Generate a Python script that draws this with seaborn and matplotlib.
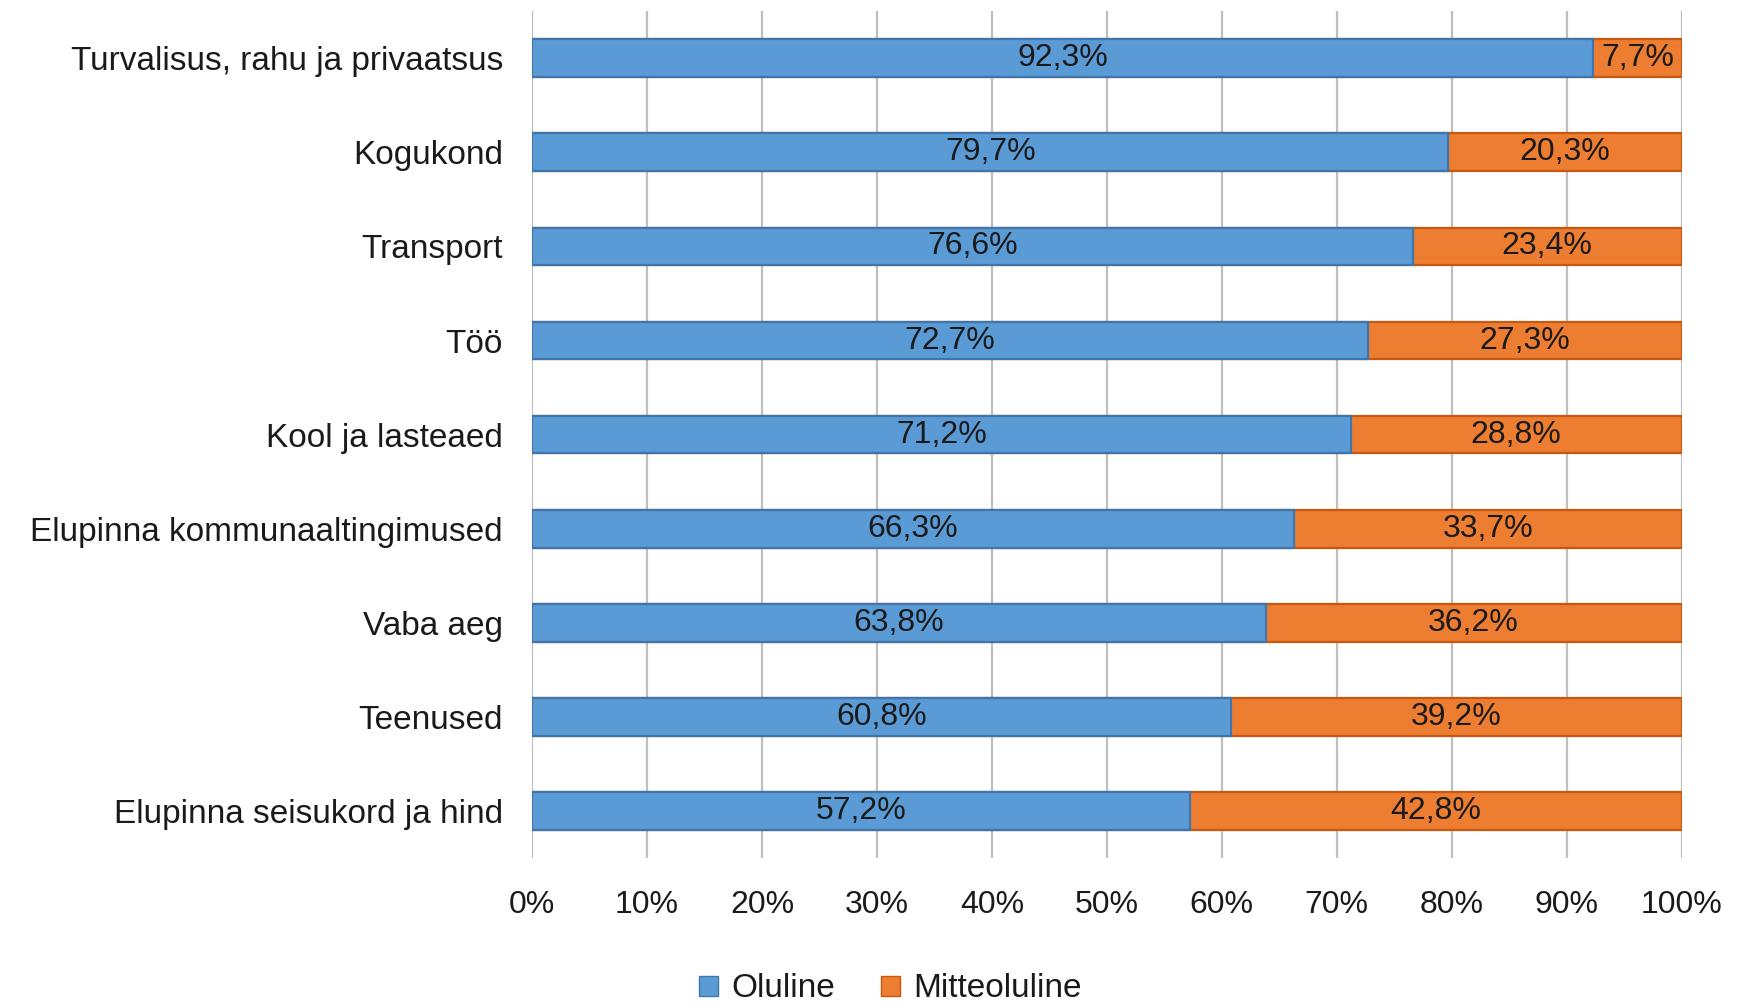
import seaborn as sns
import matplotlib.pyplot as plt
import pandas as pd
from matplotlib.patches import Patch

categories = [
    "Turvalisus, rahu ja privaatsus",
    "Kogukond",
    "Transport",
    "Töö",
    "Kool ja lasteaed",
    "Elupinna kommunaaltingimused",
    "Vaba aeg",
    "Teenused",
    "Elupinna seisukord ja hind",
]
oluline = [92.3, 79.7, 76.6, 72.7, 71.2, 66.3, 63.8, 60.8, 57.2]
mitteoluline = [7.7, 20.3, 23.4, 27.3, 28.8, 33.7, 36.2, 39.2, 42.8]
xticks = [0, 10, 20, 30, 40, 50, 60, 70, 80, 90, 100]

BLUE, BLUE_EDGE = "#5B9BD5", "#3E75AD"
ORANGE, ORANGE_EDGE = "#ED7D31", "#C8570F"

df = pd.DataFrame({"kategooria": categories, "Oluline": oluline, "Mitteoluline": mitteoluline})
df["kokku"] = df["Oluline"] + df["Mitteoluline"]

sns.set_theme(style="white")
plt.rcParams["font.family"] = ["Liberation Sans", "DejaVu Sans"]

fig = plt.figure(figsize=(17.39, 10.05), dpi=100)
ax = fig.add_axes([0.306, 0.146, 0.661, 0.843])

# stacked: full bar in orange, then blue part on top
sns.barplot(data=df, y="kategooria", x="kokku", color=ORANGE, width=0.4,
            edgecolor=ORANGE_EDGE, linewidth=1.6, saturation=1, ax=ax, zorder=2)
sns.barplot(data=df, y="kategooria", x="Oluline", color=BLUE, width=0.4,
            edgecolor=BLUE_EDGE, linewidth=1.6, saturation=1, ax=ax, zorder=3)

def fmt(v):
    return f"{v:.1f}%".replace(".", ",")

for i, (a, b) in enumerate(zip(oluline, mitteoluline)):
    ax.text(a / 2, i, fmt(a), ha="center", va="center", fontsize=23, color="#1a1a1a", zorder=5)
    ax.text(a + b / 2, i, fmt(b), ha="center", va="center", fontsize=23, color="#1a1a1a", zorder=5)

ax.set_xlim(0, 100)
ax.set_xticks(xticks)
ax.set_xticklabels([f"{t}%" for t in xticks])
ax.set_xlabel("")
ax.set_ylabel("")
ax.grid(axis="x", color="#BFBFBF", linewidth=1.6, zorder=0)
ax.grid(axis="y", visible=False)
ax.set_axisbelow(True)
for s in ax.spines.values():
    s.set_visible(False)
ax.tick_params(axis="x", length=0, pad=23, labelsize=23, labelcolor="#1a1a1a")
ax.tick_params(axis="y", length=0, pad=21, labelsize=24, labelcolor="#1a1a1a")

handles = [Patch(facecolor=BLUE, edgecolor=BLUE_EDGE, label="Oluline"),
           Patch(facecolor=ORANGE, edgecolor=ORANGE_EDGE, label="Mitteoluline")]
fig.legend(handles=handles, loc="center", bbox_to_anchor=(0.512, 0.016), ncol=2,
           frameon=False, fontsize=24, handlelength=0.55, handleheight=0.55,
           handletextpad=0.4, columnspacing=1.4, labelcolor="#1a1a1a")

fig.savefig("out.png", dpi=100)
